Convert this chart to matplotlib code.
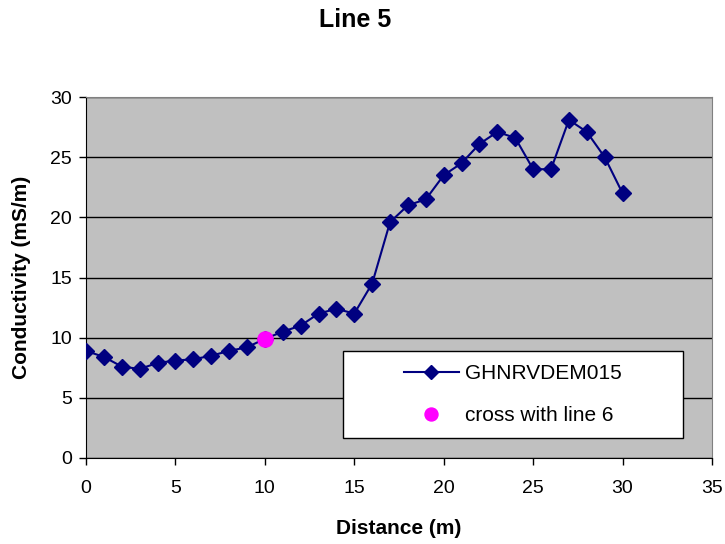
import matplotlib.pyplot as plt
from matplotlib.patches import Rectangle

plt.rcParams['font.family'] = ['Liberation Sans', 'DejaVu Sans']

# conductivity survey along line 5
distance = [0, 1, 2, 3, 4, 5, 6, 7, 8, 9, 10, 11, 12, 13, 14, 15,
            16, 17, 18, 19, 20, 21, 22, 23, 24, 25, 26, 27, 28, 29, 30]
conductivity = [8.9, 8.4, 7.6, 7.4, 7.9, 8.1, 8.2, 8.5, 8.9, 9.2, 9.9,
                10.5, 11.0, 12.0, 12.4, 12.0, 14.5, 19.6, 21.0, 21.5,
                23.5, 24.5, 26.1, 27.1, 26.6, 24.0, 24.0, 28.1, 27.1,
                25.0, 22.0]
cross_x = [10]
cross_y = [9.9]

W, H = 725, 544
fig = plt.figure(figsize=(W / 100, H / 100), dpi=100)
ax = fig.add_axes([86 / W, 1 - 458 / H, 626 / W, 361 / H])
ax.set_facecolor('#C0C0C0')

ax.plot(distance, conductivity, color='#000080', lw=1.5, marker='D',
        markersize=8, label='GHNRVDEM015', zorder=3)
ax.plot(cross_x, cross_y, 'o', color='#FF00FF', markersize=11,
        label='cross with line 6', zorder=4)

ax.set_xlim(0, 35)
ax.set_ylim(0, 30)
ax.set_xticks(range(0, 36, 5))
ax.set_yticks(range(0, 31, 5))
ax.yaxis.grid(True, color='black', lw=1)
ax.set_axisbelow(True)
ax.tick_params(labelsize=14, direction='out', length=5, width=1)
ax.tick_params(axis='x', pad=11)
ax.tick_params(axis='y', pad=5)

for side in ('top', 'right'):
    ax.spines[side].set_color('#808080')
for side in ('left', 'bottom'):
    ax.spines[side].set_color('black')

fig.text(355 / W, 1 - 20 / H, 'Line 5', fontsize=18, fontweight='bold',
         ha='center', va='center')
ax.set_xlabel('Distance (m)', fontsize=15, fontweight='bold')
ax.set_ylabel('Conductivity (mS/m)', fontsize=15, fontweight='bold')
ax.xaxis.set_label_coords(0.5, -70 / 361)
ax.xaxis.label.set_va('center')
ax.yaxis.set_label_coords(-64 / 626, 0.5)
ax.yaxis.label.set_va('center')

# legend box
bx0, by0 = 257 / 626, 20 / 361
bw, bh = 340 / 626, 87 / 361
ax.add_patch(Rectangle((bx0, by0), bw, bh, transform=ax.transAxes,
                       facecolor='white', edgecolor='black', lw=1, zorder=5))
leg = ax.legend(loc='center', bbox_to_anchor=(bx0 + bw / 2, by0 + bh / 2),
                frameon=False, fontsize=15, handlelength=2.6,
                handletextpad=0.3, labelspacing=1.1, markerscale=0.85)
leg.set_zorder(6)

fig.savefig('out.png', dpi=100)
